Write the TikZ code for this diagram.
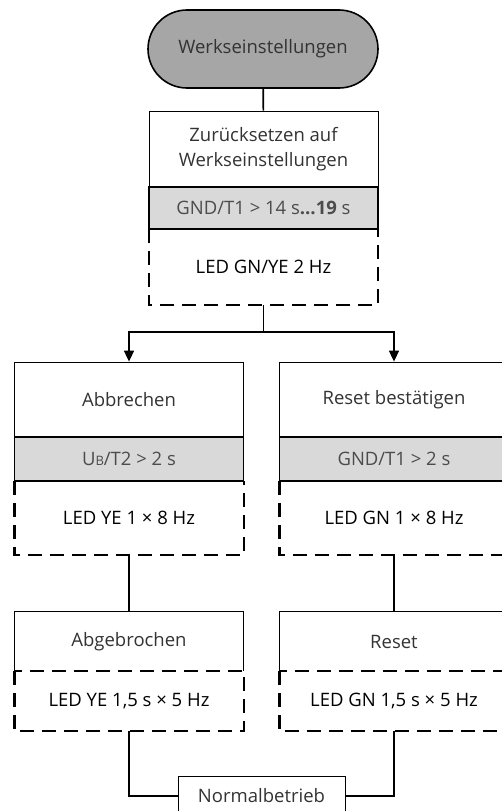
\documentclass[tikz,border=0pt]{standalone}
\usepackage{fontspec}
\setmainfont{Open Sans}
\usetikzlibrary{arrows.meta}
\definecolor{termgray}{HTML}{A6A6A6}
\definecolor{condgray}{HTML}{D9D9D9}
\begin{document}
\begin{tikzpicture}[x=1pt, y=-1pt, >={Triangle[length=11pt, width=10pt]},
    every node/.style={inner sep=0pt, align=center, font=\fontsize{18.5}{25}\selectfont},
    term/.style={draw, line width=1.6pt, fill=termgray, rounded corners=39pt, minimum width=230pt, minimum height=78pt, text=black!80},
    titlebox/.style={draw, line width=0.8pt, minimum width=229pt, text=black!80},
    openbox/.style={minimum width=229pt, text=black!80},
    condbox/.style={draw, line width=1.6pt, fill=condgray, minimum width=229pt, text=black!70},
    ledbox/.style={minimum width=229pt},
    ledline/.style={dashed, dash pattern=on 14pt off 8pt, line width=2.4pt},
    conn/.style={line width=1.6pt}]
    \useasboundingbox (0, 0) rectangle (501, 811);
    % top
    \node[term] (W) at (263, 49) {Werkseinstellungen};
    \node[titlebox, minimum height=76pt] (Z) at (263.5, 149) {Zurücksetzen auf\\Werkseinstellungen};
    \node[condbox, minimum height=42pt] (Zc) at (263.5, 208) {GND/T1 > 14 s\textbf{…19} s};
    \node[ledbox, minimum height=76pt] (Zl) at (263.5, 267) {LED GN/YE 2 Hz};
    \draw[ledline] (Zl.north west) -- (Zl.south west) -- (Zl.south east) -- (Zl.north east);
    % left branch
    \node[titlebox, minimum height=75pt] (A) at (129, 399.5) {Abbrechen};
    \node[condbox, minimum height=44pt] (Ac) at (129, 459) {U{\fontsize{13}{14}\selectfont B}/T2 > 2 s};
    \node[ledbox, minimum height=74pt] (Al) at (129, 518) {LED YE 1 × 8 Hz};
    \draw[ledline] (Al.north west) -- (Al.south west) -- (Al.south east) -- (Al.north east);
    \node[openbox, minimum height=59pt] (AB) at (129, 641.5) {Abgebrochen};
    \draw[line width=0.8pt] (AB.south west) |- (AB.north east) -- (AB.south east);
    \node[ledbox, minimum height=60pt] (ABl) at (129, 701) {LED YE 1,5 s × 5 Hz};
    \draw[ledline] (ABl.north west) rectangle (ABl.south east);
    % right branch
    \node[titlebox, minimum height=75pt] (R) at (394, 399.5) {Reset bestätigen};
    \node[condbox, minimum height=44pt] (Rc) at (394, 459) {GND/T1 > 2 s};
    \node[ledbox, minimum height=74pt] (Rl) at (394, 518) {LED GN 1 × 8 Hz};
    \draw[ledline] (Rl.north west) -- (Rl.south west) -- (Rl.south east) -- (Rl.north east);
    \node[openbox, minimum height=59pt] (RS) at (394, 641.5) {Reset};
    \draw[line width=0.8pt] (RS.south west) |- (RS.north east) -- (RS.south east);
    \node[ledbox, minimum height=60pt] (RSl) at (394, 701) {LED GN 1,5 s × 5 Hz};
    \draw[ledline] (RSl.north west) rectangle (RSl.south east);
    % end
    \node[draw, line width=0.8pt, minimum width=167pt, minimum height=40pt, text=black!80] (N) at (261.5, 796) {Normalbetrieb};
    % connectors
    \coordinate (split) at (263.5, 332);
    \draw[conn] (W) -- (Z);
    \draw[conn] (Zl.south) -- (split);
    \draw[conn, ->] (split) -| (A.north);
    \draw[conn, ->] (split) -| (R.north);
    \draw[conn] (Al.south) -- (AB.north);
    \draw[conn] (Rl.south) -- (RS.north);
    \draw[conn] (ABl.south) |- (N.west);
    \draw[conn] (RSl.south) |- (N.east);
\end{tikzpicture}
\end{document}
